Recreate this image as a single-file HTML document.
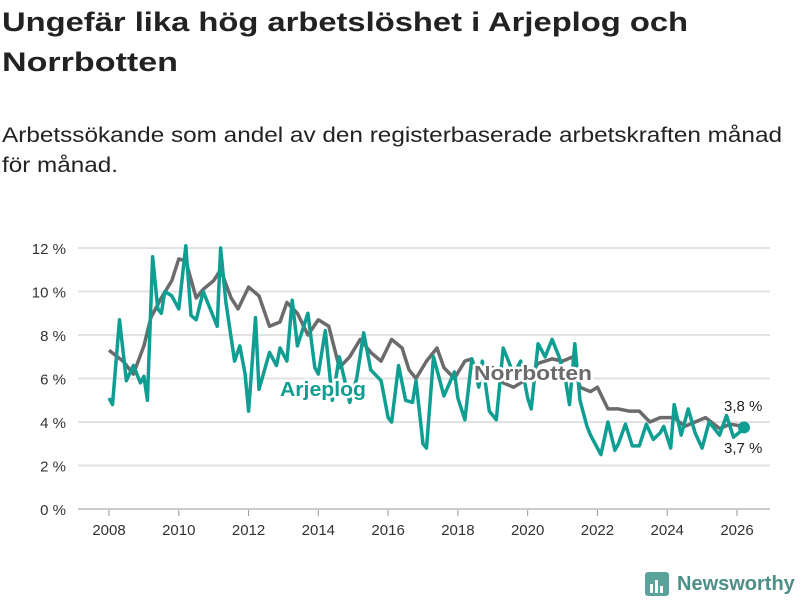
<!DOCTYPE html>
<html><head><meta charset="utf-8"><style>
body{margin:0;background:#fff}
svg{display:block;font-family:"Liberation Sans","DejaVu Sans",sans-serif}
</style></head><body>
<svg id="chart" width="800" height="600">
<text x="2" y="31" font-size="27" font-weight="bold" fill="#222" textLength="686" lengthAdjust="spacingAndGlyphs">Ungefär lika hög arbetslöshet i Arjeplog och</text>
<text x="2" y="71" font-size="27" font-weight="bold" fill="#222" textLength="176" lengthAdjust="spacingAndGlyphs">Norrbotten</text>
<text x="2" y="142" font-size="21" fill="#222" textLength="780" lengthAdjust="spacingAndGlyphs">Arbetssökande som andel av den registerbaserade arbetskraften månad</text>
<text x="2" y="172" font-size="21" fill="#222" textLength="116" lengthAdjust="spacingAndGlyphs">för månad.</text>
<g id="grid"></g><g id="xaxis"></g><g id="series"></g><g id="labels"></g>
<g>
<rect x="645" y="572" width="24" height="24" rx="3" fill="#5aa39a"/>
<rect x="650" y="584" width="3" height="9" fill="#fff"/><rect x="655" y="580" width="3" height="13" fill="#fff"/><rect x="660" y="586" width="3" height="7" fill="#fff"/>
<text x="677" y="590" font-size="20" font-weight="bold" fill="#4d8f88">Newsworthy</text>
</g>
</svg>
<script>
const yTicks=[0,2,4,6,8,10,12];
const xTicks=[2008,2010,2012,2014,2016,2018,2020,2022,2024,2026];
const norrDates=[2008.0,2008.4,2008.7,2009.0,2009.2,2009.5,2009.8,2010.0,2010.2,2010.5,2010.7,2011.0,2011.2,2011.5,2011.7,2012.0,2012.3,2012.6,2012.9,2013.1,2013.4,2013.7,2014.0,2014.3,2014.6,2014.9,2015.2,2015.5,2015.8,2016.1,2016.4,2016.6,2016.8,2017.1,2017.4,2017.6,2017.9,2018.2,2018.4,2018.6,2019.0,2019.3,2019.6,2020.0,2020.3,2020.7,2021.0,2021.3,2021.5,2021.8,2022.0,2022.3,2022.6,2022.9,2023.2,2023.5,2023.8,2024.2,2024.5,2024.8,2025.1,2025.5,2025.8,2026.2];
const norrValues=[7.3,6.8,6.2,7.5,8.8,9.7,10.5,11.5,11.4,9.7,10.1,10.5,11.0,9.7,9.2,10.2,9.8,8.4,8.6,9.5,9.0,8.0,8.7,8.4,6.5,7.0,7.8,7.2,6.8,7.8,7.4,6.4,6.0,6.8,7.4,6.5,6.0,6.8,6.9,6.0,6.5,5.8,5.6,6.0,6.7,6.9,6.8,7.0,5.6,5.4,5.6,4.6,4.6,4.5,4.5,4.0,4.2,4.2,3.8,4.0,4.2,3.7,3.9,3.8];
const arjDates=[2008.0,2008.1,2008.3,2008.5,2008.7,2008.9,2009.0,2009.1,2009.25,2009.4,2009.5,2009.6,2009.8,2010.0,2010.2,2010.35,2010.5,2010.7,2010.9,2011.1,2011.2,2011.35,2011.6,2011.75,2011.9,2012.0,2012.2,2012.3,2012.6,2012.8,2012.9,2013.1,2013.25,2013.4,2013.5,2013.7,2013.9,2014.0,2014.2,2014.4,2014.6,2014.9,2015.1,2015.3,2015.5,2015.8,2016.0,2016.1,2016.3,2016.5,2016.7,2016.8,2017.0,2017.1,2017.3,2017.6,2017.9,2018.0,2018.2,2018.4,2018.6,2018.7,2018.9,2019.1,2019.3,2019.6,2019.8,2020.0,2020.1,2020.3,2020.5,2020.7,2020.9,2021.1,2021.2,2021.35,2021.5,2021.7,2021.8,2022.0,2022.1,2022.3,2022.5,2022.6,2022.8,2023.0,2023.2,2023.4,2023.6,2023.8,2023.9,2024.1,2024.2,2024.4,2024.6,2024.8,2025.0,2025.2,2025.5,2025.7,2025.9,2026.2];
const arjValues=[5.1,4.8,8.7,5.9,6.6,5.8,6.1,5.0,11.6,9.2,9.0,10.0,9.8,9.2,12.1,8.9,8.7,10.0,9.2,8.4,12.0,9.5,6.8,7.5,6.2,4.5,8.8,5.5,7.2,6.6,7.4,6.8,9.6,7.5,8.0,9.0,6.5,6.2,8.2,5.0,7.0,4.9,6.0,8.1,6.4,5.9,4.2,4.0,6.6,5.0,4.9,5.9,3.0,2.8,7.0,5.2,6.3,5.1,4.1,6.9,5.6,6.8,4.5,4.1,7.4,6.2,6.8,5.1,4.6,7.6,7.0,7.8,7.0,5.8,4.8,7.6,5.0,3.8,3.4,2.8,2.5,4.0,2.7,3.0,3.9,2.9,2.9,3.9,3.2,3.5,3.8,2.8,4.8,3.4,4.6,3.5,2.8,4.0,3.4,4.3,3.3,3.7];
const NS="http://www.w3.org/2000/svg";
const x=v=>109+(v-2008)*(737-109)/18;
const y=v=>509-v*(509-248)/12;
function mk(tag,attrs,parent){const e=document.createElementNS(NS,tag);for(const k in attrs)e.setAttribute(k,attrs[k]);document.getElementById(parent).appendChild(e);return e;}
yTicks.forEach(t=>{
 const l=mk('line',{x1:78,x2:770,y1:y(t),y2:y(t),stroke:t===0?'#ccc':'#e2e2e2','stroke-width':2},'grid');
 
 
 const tx=mk('text',{x:66,y:y(t)+6,'font-size':15,fill:'#333','text-anchor':'end'},'grid');
 tx.textContent=t+' %';
 
 
});
xTicks.forEach(t=>{
 const l=mk('line',{x1:x(t),x2:x(t),y1:510,y2:516,stroke:'#999','stroke-width':1},'xaxis');
 
 
 const tx=mk('text',{x:x(t),y:535,'font-size':15,fill:'#333','text-anchor':'middle'},'xaxis');
 tx.textContent=t;
 
 
});
function path(d,v){return d.map((t,i)=>(i?'L':'M')+x(t).toFixed(1)+','+y(v[i]).toFixed(1)).join('');}
const pn=mk('path',{d:path(norrDates,norrValues),fill:'none',stroke:'#6b6b6e','stroke-width':3.5,'stroke-linejoin':'round'},'series');


const pa=mk('path',{d:path(arjDates,arjValues),fill:'none',stroke:'#0f9e92','stroke-width':3.5,'stroke-linejoin':'round'},'series');


const dot=mk('circle',{cx:x(arjDates[arjDates.length-1]),cy:y(3.75),r:6,fill:'#0f9e92'},'series');


function lab(txt,xx,yy,col,sz,bold,len){const a={x:xx,y:yy,'font-size':sz,fill:col,'font-weight':bold?'bold':'normal',stroke:'#fff','stroke-width':bold?5:4,'paint-order':'stroke','stroke-linejoin':'round'};if(len){a.textLength=len;a.lengthAdjust='spacingAndGlyphs';}const t=mk('text',a,'labels');t.textContent=txt;return t;}
let t1=lab('Arjeplog',280,396,'#0f9e92',20,true,86);


let t2=lab('Norrbotten',474,380,'#6b6b6e',20,true,118);


let t3=lab('3,8 %',724,411,'#222',15,false);


let t4=lab('3,7 %',724,453,'#222',15,false);


</script>
</body></html>
